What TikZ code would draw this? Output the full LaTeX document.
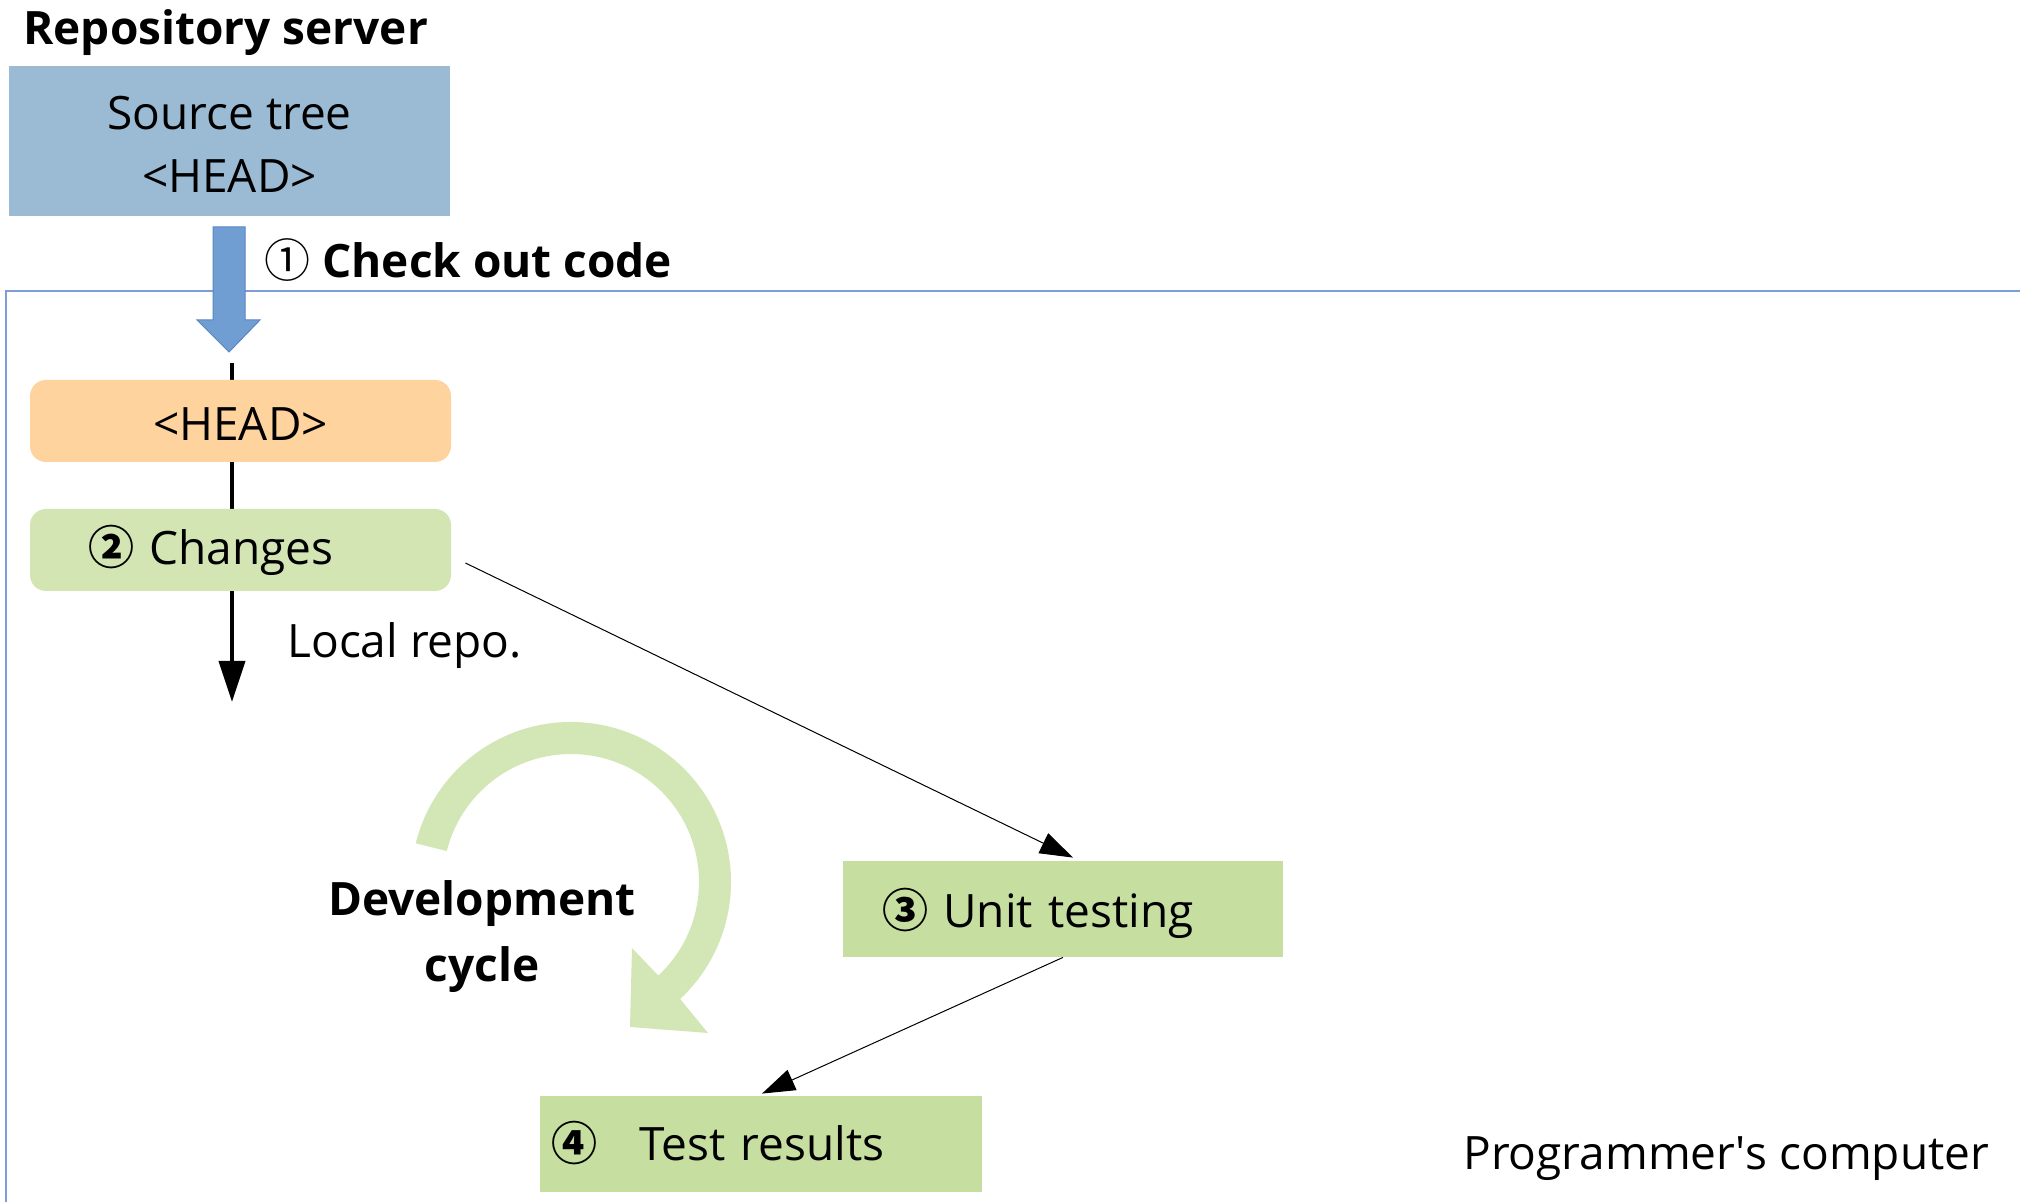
\documentclass[tikz,border=0pt]{standalone}
\usepackage{fontspec}
\setmainfont{Open Sans}
\newfontfamily\cjk{Noto Sans CJK JP}
\usetikzlibrary{arrows.meta,calc}
\definecolor{srcblue}{HTML}{9BBBD5}
\definecolor{arrowblue}{HTML}{719ED2}
\definecolor{arrowedge}{HTML}{5A86C2}
\definecolor{framecol}{HTML}{7C9DD6}
\definecolor{headorange}{HTML}{FFD39E}
\definecolor{changegreen}{HTML}{D2E5B3}
\definecolor{cyclegreen}{HTML}{D3E6B5}
\definecolor{testgreen}{HTML}{C6DEA0}
\newcommand{\circnum}[1]{{\cjk\mdseries #1}}
\newcommand{\circnumbold}[1]{{\cjk\bfseries #1}}

\begin{document}
\begin{tikzpicture}[x=0.5pt,y=0.5pt,
  font=\fontsize{23}{31.5}\selectfont,
  boldtext/.style={font=\fontsize{23}{33}\selectfont\bfseries},
  labeltext/.style={inner sep=0pt},
  timeline/.style={line width=2pt, -{Triangle[length=20.5pt,width=13pt]}},
  flowarrow/.style={line width=0.5pt, -{Triangle[length=16.5pt,width=11pt]}},
  roundbox/.style={rounded corners=8pt, minimum width=210.5pt, minimum height=41pt, inner ysep=0pt},
  stepbox/.style={fill=testgreen, minimum height=48pt, inner ysep=0pt, align=left},
]
\useasboundingbox (0,0) rectangle (2020,-1202);
\fill[white] (0,0) rectangle (2020,-1202);

% outline of the programmer's computer
\draw[framecol, line width=0.75pt] (2020,-291) -- (6,-291) -- (6,-1202);

% repository server
\node[labeltext, boldtext, anchor=west] (reposerver) at (23,-33) {Repository server};
\node[fill=srcblue, minimum width=220.5pt, minimum height=75pt, inner sep=0pt] (source) at (229.5,-141) {};
\node[labeltext, align=center] (sourcetext) at ([yshift=-1.5pt]source.center) {Source tree\\<HEAD>};

% check-out block arrow
\filldraw[fill=arrowblue, draw=arrowedge, line width=0.5pt]
  (213,-227) -- (245,-227) -- (245,-320) -- (260,-320) -- (229,-352) -- (197,-320) -- (213,-320) -- cycle;
\node[labeltext, boldtext, anchor=west] (checkout) at (264,-260) {\circnum{①} Check out code};

% local repository history line
\coordinate (lrtop) at (232,-363);
\coordinate (lrend) at (232,-702);
\draw[timeline] (lrtop) -- (lrend);

\node[roundbox, fill=headorange, inner xsep=0pt, text height=26pt, text depth=6pt] (head) at (240.5,-421) {<HEAD>};
\node[roundbox, fill=changegreen, inner xsep=29pt, text width=152.5pt, align=left, text height=21pt, text depth=6pt] (changes) at (240.5,-550) {\circnumbold{②} Changes};
\node[labeltext, anchor=west] (localrepo) at (287,-646) {Local repo.};

% development cycle arrow
\coordinate (cyc) at (571,-882);
\fill[cyclegreen] ($(cyc)+(166:160)$) arc[start angle=166, end angle=-47, radius=160]
  -- (708,-1033) -- (630,-1027) -- (632,-948)
  -- ($(cyc)+(-47:128)$) arc[start angle=-47, end angle=166, radius=128] -- cycle;
\node[labeltext, boldtext, align=center] (devcycle) at (482,-937) {Development\\cycle};

% testing steps
\node[stepbox, inner xsep=19.5pt, text width=181pt, text height=25pt, text depth=6pt] (unit) at (1063,-909) {\circnumbold{③} Unit testing};
\node[stepbox, inner xsep=5.5pt, text width=210pt, text height=22pt, text depth=6pt] (test) at (761,-1144) {\circnumbold{④}\hspace{21pt}Test results};

\draw[flowarrow] ([shift={(14,-13)}]changes.east) -- ([shift={(10,3)}]unit.north);
\draw[flowarrow] (unit.south) -- ([shift={(1,2)}]test.north);

\node[labeltext, anchor=west] (computer) at (1463,-1159) {Programmer\textquotesingle s computer};
\end{tikzpicture}
\end{document}
